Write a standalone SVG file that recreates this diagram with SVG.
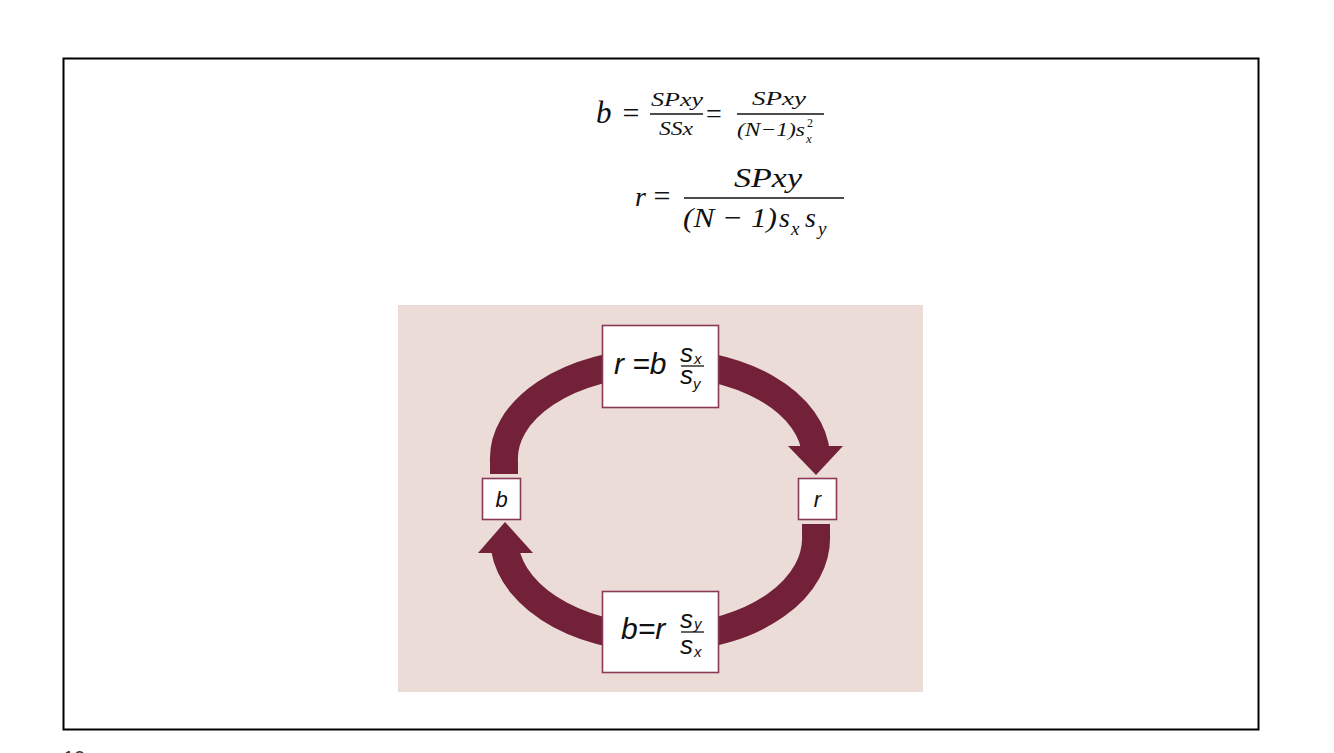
<svg xmlns="http://www.w3.org/2000/svg" width="1334" height="753" viewBox="0 0 1334 753">
<style>
.m{font-family:"Liberation Serif","Times New Roman",serif;font-style:italic;fill:#111}
.mu{font-family:"Liberation Serif","Times New Roman",serif;fill:#111}
.s{font-family:"Liberation Sans",Arial,sans-serif;font-style:italic;fill:#111}
.box{fill:#fff;stroke:#8a3a54;stroke-width:1.6}
.band{fill:none;stroke:#722139;stroke-width:28}
.head{fill:#722139}
.fl{stroke:#111;stroke-width:1.3}
</style>
<rect x="0" y="0" width="1334" height="753" fill="#fff"/>
<rect x="63.5" y="58.5" width="1195" height="671" fill="none" stroke="#000" stroke-width="2"/>
<g id="equations">
<text class="m" x="596" y="123" font-size="31">b</text>
<text class="mu" x="631" y="123" font-size="30" text-anchor="middle">=</text>
<text class="m" x="651" y="106" font-size="19" textLength="52" lengthAdjust="spacingAndGlyphs">SPxy</text>
<line class="fl" x1="650" y1="114" x2="703" y2="114"/>
<text class="m" x="659" y="135" font-size="19" textLength="34" lengthAdjust="spacingAndGlyphs">SSx</text>
<text class="mu" x="714" y="123" font-size="28" text-anchor="middle">=</text>
<text class="m" x="752" y="105" font-size="19" textLength="54" lengthAdjust="spacingAndGlyphs">SPxy</text>
<line class="fl" x1="737" y1="114" x2="824" y2="114"/>
<text class="m" x="737" y="136" font-size="19" textLength="68" lengthAdjust="spacingAndGlyphs">(N−1)s</text>
<text class="mu" x="807" y="127" font-size="12">2</text>
<text class="m" x="806" y="143" font-size="13">x</text>
<text class="m" x="635" y="206" font-size="28">r</text>
<text class="mu" x="662" y="206" font-size="30" text-anchor="middle">=</text>
<text class="m" x="734" y="187" font-size="28" textLength="68" lengthAdjust="spacingAndGlyphs">SPxy</text>
<line class="fl" x1="684" y1="198" x2="844" y2="198" stroke-width="1.6"/>
<text class="m" x="683" y="227" font-size="28" textLength="94" lengthAdjust="spacingAndGlyphs">(N − 1)</text>
<text class="m" x="779" y="227" font-size="28">s</text>
<text class="m" x="791" y="235" font-size="19">x</text>
<text class="m" x="805" y="227" font-size="28">s</text>
<text class="m" x="818" y="235" font-size="19">y</text>
</g>
<rect x="398" y="305" width="525" height="387" fill="#ecdcd8"/>
<g id="connectors">
<path class="band" d="M504,474 V462 A156,96 0 0 1 816,455"/>
<polygon class="head" points="788,446 843,446 816,475"/>
<path class="band" d="M816,524 V535 A156,100 0 0 1 505,549"/>
<polygon class="head" points="478,553 533,553 505,522"/>
</g>
<g id="node-top">
<rect class="box" x="602.5" y="325.5" width="116" height="82"/>
<text class="s" x="614" y="374" font-size="30">r =b</text>
<text class="s" x="680" y="362" font-size="26">s</text>
<text class="s" x="694" y="364" font-size="15">x</text>
<line class="fl" x1="681" y1="366" x2="704" y2="366"/>
<text class="s" x="680" y="384" font-size="26">s</text>
<text class="s" x="693" y="389" font-size="15">y</text>
</g>
<g id="node-bottom">
<rect class="box" x="602.5" y="591.5" width="116" height="81"/>
<text class="s" x="621" y="639" font-size="30">b=r</text>
<text class="s" x="680" y="628" font-size="26">s</text>
<text class="s" x="694" y="629" font-size="15">y</text>
<line class="fl" x1="681" y1="632" x2="704" y2="632"/>
<text class="s" x="680" y="654" font-size="26">s</text>
<text class="s" x="694" y="657" font-size="15">x</text>
</g>
<g id="node-b">
<rect class="box" x="482.5" y="478.5" width="38" height="41"/>
<text class="s" x="501.5" y="507" font-size="22" text-anchor="middle">b</text>
</g>
<g id="node-r">
<rect class="box" x="798.5" y="478.5" width="38" height="41"/>
<text class="s" x="817.5" y="507" font-size="22" text-anchor="middle">r</text>
</g>
<text x="63" y="765" font-family="Liberation Sans,Arial,sans-serif" font-size="20" fill="#333">10</text>
</svg>
